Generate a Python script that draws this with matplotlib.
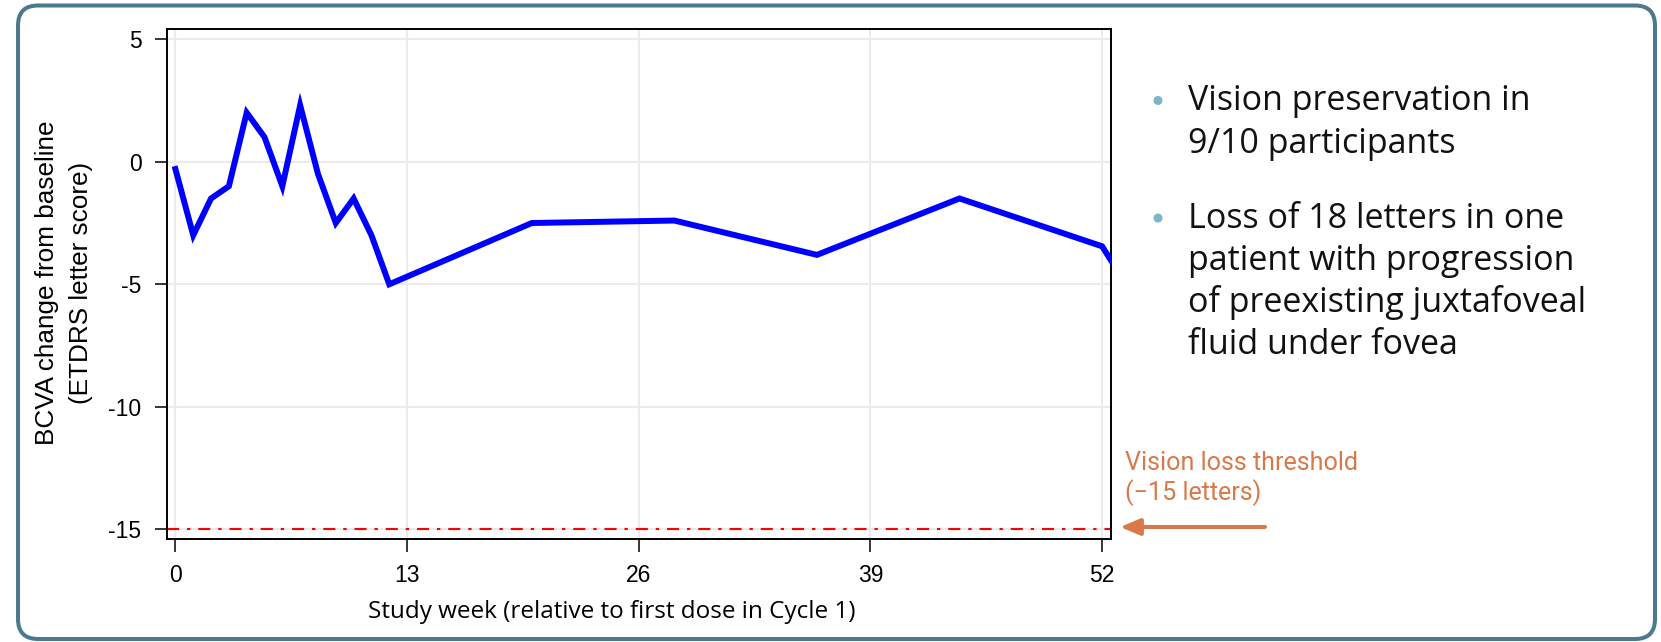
import matplotlib
matplotlib.use('Agg')
import matplotlib.pyplot as plt
from matplotlib.patches import FancyBboxPatch
from matplotlib.transforms import IdentityTransform

# data
weeks = [0, 1, 2, 3, 4, 5, 6, 7, 8, 9, 10, 11, 12, 20, 28, 36, 44, 52, 53]
bcva = [-0.3, -3.0, -1.5, -1.0, 2.0, 1.0, -1.0, 2.3, -0.5, -2.5, -1.5, -3.0, -5.0,
        -2.5, -2.4, -3.8, -1.5, -3.45, -4.6]
xticks = [0, 13, 26, 39, 52]
yticks = [5, 0, -5, -10, -15]
threshold = -15

bullets = [['Vision preservation in', '9/10 participants'],
           ['Loss of 18 letters in one', 'patient with progression',
            'of preexisting juxtafoveal', 'fluid under fovea']]

W, H = 1661, 642
fig = plt.figure(figsize=(W / 100, H / 100), dpi=100)
fig.patch.set_facecolor('white')

# rounded frame round the whole slide
frame = FancyBboxPatch((18, 3), 1637, 633.5, boxstyle='round,pad=0,rounding_size=20',
                       transform=IdentityTransform(), facecolor='none',
                       edgecolor='#4b7a8c', linewidth=2.9)
fig.add_artist(frame)

ax = fig.add_axes([166.5 / W, 1 - 539.3 / H, (1111 - 166.5) / W, (539.3 - 29.3) / H])
ax.plot(weeks, bcva, color='#0000ff', lw=4.3, solid_joinstyle='miter', zorder=3)
ax.axhline(threshold, color='#ff0000', lw=1.5, linestyle=(0, (5.8, 3.8, 1.6, 3.8)), zorder=2)

ax.set_xlim(-0.5, 52.5)
ax.set_ylim(-15.4, 5.4)
ax.set_xticks(xticks)
ax.set_yticks(yticks)
ax.set_xticklabels([str(t) for t in xticks], family='Liberation Sans', fontsize=16.5)
ax.set_yticklabels([str(t) for t in yticks], family='Liberation Sans', fontsize=16.5)
ax.tick_params(direction='out', length=9, width=1.1, pad=9, color='black')
ax.grid(True, color='#ebebeb', lw=1.5, zorder=0)
ax.set_axisbelow(True)
for s in ax.spines.values():
    s.set_linewidth(1.4)
    s.set_color('black')

fig.text(64 / W, 1 - 283 / H, 'BCVA change from baseline\n(ETDRS letter score)',
         rotation=90, ha='center', va='center', multialignment='center',
         family='Liberation Sans', fontsize=18.8, linespacing=1.5)
fig.text(611.5 / W, 1 - 612 / H, 'Study week (relative to first dose in Cycle 1)',
         ha='center', va='center', family='Open Sans', fontsize=17.5)

# bullet points on the right
y0 = 101.5
for i, para in enumerate(bullets):
    ytop = y0 + i * 117.5
    fig.add_artist(plt.Circle((1158, H - ytop + 1), 3.8, transform=IdentityTransform(),
                              color='#7fb3c8'))
    for k, line in enumerate(para):
        fig.text(1188 / W, 1 - (ytop + k * 42) / H, line, ha='left', va='center',
                 family='Open Sans', fontsize=24.5, color='#111111')

# threshold annotation
fig.text(1125 / W, 1 - 478.5 / H, 'Vision loss threshold\n(\u221215 letters)', ha='left',
         va='center', family='Roboto', fontsize=18.1, color='#d9794a', linespacing=1.22)
ax.annotate('', xy=(1120, H - 527), xycoords='figure pixels',
            xytext=(1265, H - 527), textcoords='figure pixels',
            arrowprops=dict(arrowstyle='-|>,head_length=1.2,head_width=0.5',
                            color='#d9794a', lw=2.9, shrinkA=0, shrinkB=0),
            annotation_clip=False)

fig.savefig('out.png', dpi=100)
